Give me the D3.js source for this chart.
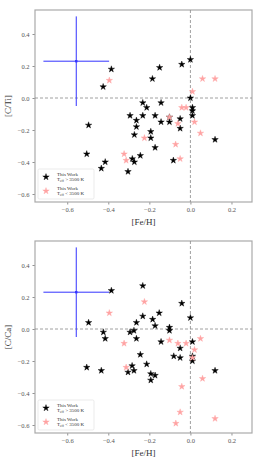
<!DOCTYPE html>
<html>
<head>
<meta charset="utf-8">
<script src="https://cdn.jsdelivr.net/npm/d3@7"></script>
<style>
  body { margin: 0; background: #fff; }
  svg { display: block; }
  text { font-family: 'Liberation Serif', 'DejaVu Serif', serif; }
</style>
</head>
<body>
<div id="chart"></div>
<script>
// [Fe/H], [C/X] pairs
const tiHot = [
  [-0.385, 0.18], [-0.425, 0.07], [-0.185, 0.12], [-0.15, 0.19], [-0.042, 0.21],
  [0.0, 0.24], [0.0, 0.0], [-0.232, -0.03], [-0.213, -0.06], [-0.143, -0.03],
  [0.01, -0.06], [0.01, -0.08], [0.01, -0.11], [-0.294, -0.11], [-0.232, -0.11],
  [-0.172, -0.11], [-0.102, -0.12], [-0.102, -0.15], [-0.05, -0.13], [-0.263, -0.14],
  [-0.143, -0.15], [-0.496, -0.17], [-0.263, -0.18], [-0.05, -0.19], [-0.193, -0.21],
  [-0.273, -0.23], [-0.193, -0.25], [-0.172, -0.31], [0.12, -0.26], [-0.505, -0.35],
  [-0.244, -0.36], [-0.283, -0.38], [-0.273, -0.40], [-0.415, -0.40], [-0.434, -0.44],
  [-0.304, -0.46], [-0.083, -0.39]
]
const tiCool = [
  [-0.395, 0.11], [0.059, 0.12], [0.12, 0.12], [0.01, 0.04], [-0.042, -0.06],
  [-0.021, -0.06], [-0.102, -0.12], [0.02, -0.15], [-0.061, -0.16], [0.049, -0.22],
  [-0.224, -0.25], [-0.072, -0.29], [-0.323, -0.35], [-0.313, -0.39], [-0.05, -0.38]
]
const caHot = [
  [-0.385, 0.24], [-0.232, 0.27], [-0.042, 0.16], [-0.152, 0.10], [-0.232, 0.08],
  [-0.184, 0.06], [-0.263, 0.04], [-0.496, 0.04], [-0.172, 0.02], [0.0, 0.07],
  [-0.102, 0.01], [-0.102, -0.01], [-0.275, -0.01], [-0.294, -0.02], [-0.424, -0.02],
  [-0.415, -0.06], [-0.263, -0.06], [-0.143, -0.08], [0.01, -0.08], [-0.05, -0.12],
  [-0.244, -0.16], [-0.081, -0.17], [-0.05, -0.18], [0.01, -0.17], [0.01, -0.20],
  [-0.213, -0.22], [-0.284, -0.23], [-0.505, -0.24], [-0.434, -0.26], [-0.275, -0.26],
  [-0.304, -0.27], [-0.193, -0.28], [-0.172, -0.29], [-0.193, -0.32], [0.12, -0.26]
]
const caCool = [
  [-0.395, 0.10], [-0.224, 0.17], [-0.323, -0.09], [-0.102, -0.07], [-0.061, -0.09],
  [-0.021, -0.09], [0.049, -0.06], [0.02, -0.13], [0.01, -0.18], [-0.313, -0.24],
  [0.059, -0.31], [-0.042, -0.36], [-0.05, -0.52], [-0.071, -0.59], [0.12, -0.56]
]
// typical uncertainty cross: [Fe/H], [C/X], xerr, yerr
const errBar = [-0.556, 0.23, 0.16, 0.28]

const xTicks = [-0.6, -0.4, -0.2, 0.0, 0.2]
const yTicks = [-0.6, -0.4, -0.2, 0.0, 0.2, 0.4]
const legendLabels = ['> 3500 K', '< 3500 K']

const hotColor = '#000'
const coolColor = '#ffa3a3'

const W = 266
const H = 465

const svg = d3.select('#chart')
  .append('svg')
  .attr('width', W)
  .attr('height', H)

const fmt = d => d3.format('.1f')(d).replace('-', '\u2212')

const star = d3.symbol().type(d3.symbolStar).size(13)

function panel (top, yLabel, hot, cool) {
  const margin = { left: 35, right: 14 }
  const plotH = 192
  const x = d3.scaleLinear().domain([-0.757, 0.3]).range([margin.left, W - margin.right])
  const y = d3.scaleLinear().domain([-0.65, 0.55]).range([top + plotH, top])

  const g = svg.append('g')

  // axes
  const xAxis = g.append('g')
    .attr('transform', 'translate(0,' + (top + plotH) + ')')
    .call(d3.axisBottom(x).tickValues(xTicks).tickFormat(fmt).tickSize(2.5).tickPadding(3))
  const yAxis = g.append('g')
    .attr('transform', 'translate(' + margin.left + ',0)')
    .call(d3.axisLeft(y).tickValues(yTicks).tickFormat(fmt).tickSize(2.5).tickPadding(3))
  ;[xAxis, yAxis].forEach(a => {
    a.select('.domain').remove()
    a.selectAll('.tick line').attr('stroke', '#777').attr('stroke-width', 0.8)
    a.selectAll('.tick text')
      .attr('fill', '#555')
      .style('font-size', '6.5px')
      .style('font-family', "'Liberation Serif', serif")
  })

  // frame
  g.append('rect')
    .attr('x', x.range()[0])
    .attr('y', top)
    .attr('width', x.range()[1] - x.range()[0])
    .attr('height', plotH)
    .attr('fill', 'none')
    .attr('stroke', '#aaa')
    .attr('stroke-width', 1.2)

  // zero lines
  g.append('line')
    .attr('x1', x.range()[0]).attr('x2', x.range()[1])
    .attr('y1', y(0)).attr('y2', y(0))
    .attr('stroke', '#888').attr('stroke-width', 0.8).attr('stroke-dasharray', '3,2')
  g.append('line')
    .attr('x1', x(0)).attr('x2', x(0))
    .attr('y1', top).attr('y2', top + plotH)
    .attr('stroke', '#888').attr('stroke-width', 0.8).attr('stroke-dasharray', '3,2')

  // error cross
  const [ex, ey, dx, dy] = errBar
  g.append('line')
    .attr('x1', x(ex - dx)).attr('x2', x(ex + dx))
    .attr('y1', y(ey)).attr('y2', y(ey))
    .attr('stroke', '#3333ff').attr('stroke-width', 1)
  g.append('line')
    .attr('x1', x(ex)).attr('x2', x(ex))
    .attr('y1', y(ey + dy)).attr('y2', y(ey - dy))
    .attr('stroke', '#3333ff').attr('stroke-width', 1)
  g.append('rect')
    .attr('x', x(ex) - 1.2).attr('y', y(ey) - 1.2)
    .attr('width', 2.4).attr('height', 2.4)
    .attr('fill', '#3333ff')

  // stars
  g.selectAll('.hot')
    .data(hot)
    .enter()
    .append('path')
    .attr('class', 'hot')
    .attr('d', star)
    .attr('transform', d => 'translate(' + x(d[0]) + ',' + y(d[1]) + ')')
    .attr('fill', hotColor)
    .attr('stroke', hotColor)
    .attr('stroke-width', 0.4)

  g.selectAll('.cool')
    .data(cool)
    .enter()
    .append('path')
    .attr('class', 'cool')
    .attr('d', star)
    .attr('transform', d => 'translate(' + x(d[0]) + ',' + y(d[1]) + ')')
    .attr('fill', coolColor)
    .attr('stroke', coolColor)
    .attr('stroke-width', 0.4)

  // axis labels
  g.append('text')
    .attr('x', (x.range()[0] + x.range()[1]) / 2)
    .attr('y', top + plotH + 23)
    .attr('text-anchor', 'middle')
    .attr('fill', '#333')
    .style('font-size', '9px')
    .text('[Fe/H]')
  g.append('text')
    .attr('transform', 'translate(11,' + (top + plotH / 2) + ') rotate(-90)')
    .attr('text-anchor', 'middle')
    .attr('fill', '#333')
    .style('font-size', '9px')
    .text(yLabel)

  // legend
  const lx = 38
  const ly = top + plotH - 33
  const leg = g.append('g')
  leg.append('rect')
    .attr('x', lx).attr('y', ly)
    .attr('width', 56).attr('height', 30)
    .attr('rx', 1.5)
    .attr('fill', '#fff')
    .attr('fill-opacity', 0.8)
    .attr('stroke', '#ddd')
    .attr('stroke-width', 0.6)
  ;[hotColor, coolColor].forEach((c, i) => {
    const cy = ly + 8 + i * 14
    leg.append('path')
      .attr('d', star)
      .attr('transform', 'translate(' + (lx + 8) + ',' + cy + ')')
      .attr('fill', c)
      .attr('stroke', c)
      .attr('stroke-width', 0.4)
    leg.append('text')
      .attr('x', lx + 19)
      .attr('y', cy - 1.5)
      .attr('fill', '#333')
      .style('font-size', '5px')
      .text('This Work')
    const t = leg.append('text')
      .attr('x', lx + 19)
      .attr('y', cy + 4)
      .attr('fill', '#333')
      .style('font-size', '5px')
    t.append('tspan').text('T')
    t.append('tspan').attr('dy', 1).style('font-size', '3.5px').text('eff')
    t.append('tspan').attr('dy', -1).text(' ' + legendLabels[i])
  })
}

panel(10, '[C/Ti]', tiHot, tiCool)
panel(241, '[C/Ca]', caHot, caCool)
</script>
</body>
</html>
